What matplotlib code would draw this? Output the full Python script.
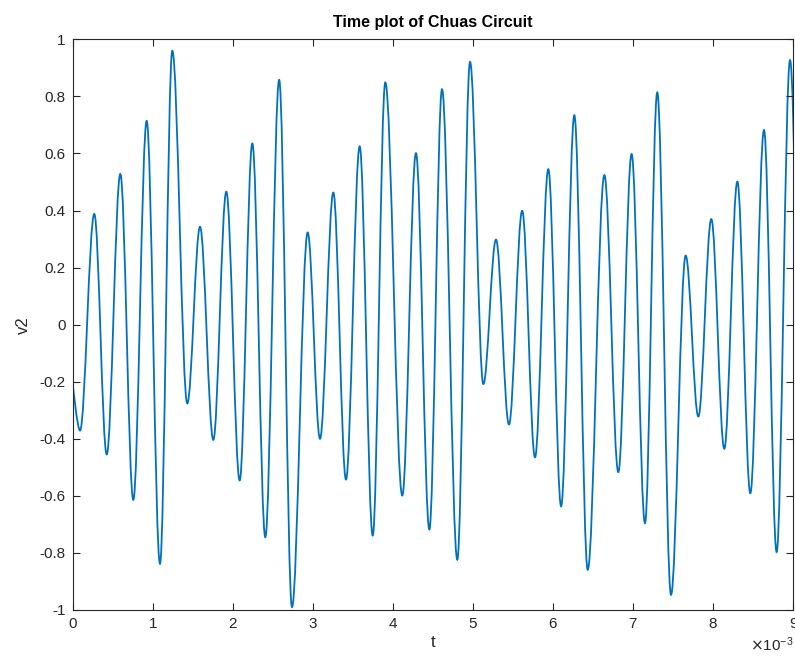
import matplotlib
matplotlib.use("Agg")
import matplotlib.pyplot as plt
from matplotlib.path import Path
from matplotlib.patches import PathPatch

plt.rcParams['font.family'] = ['Liberation Sans', 'DejaVu Sans']

# extremos de v2 (t en ms)
t_ms = [0.000, 0.094, 0.272, 0.427, 0.597, 0.759, 0.926, 1.092, 1.246, 1.433,
        1.592, 1.758, 1.920, 2.087, 2.245, 2.407, 2.580, 2.740, 2.936, 3.090,
        3.256, 3.414, 3.585, 3.748, 3.905, 4.117, 4.288, 4.455, 4.613, 4.804,
        4.963, 5.129, 5.287, 5.449, 5.614, 5.774, 5.940, 6.100, 6.265, 6.432,
        6.640, 6.814, 6.980, 7.147, 7.300, 7.472, 7.655, 7.813, 7.975, 8.137,
        8.300, 8.462, 8.633, 8.790, 8.958, 9.120]
v2 = [-0.200, -0.371, 0.388, -0.455, 0.528, -0.614, 0.714, -0.838, 0.960, -0.276,
      0.343, -0.404, 0.466, -0.546, 0.635, -0.745, 0.858, -0.990, 0.323, -0.400,
      0.463, -0.543, 0.625, -0.739, 0.849, -0.599, 0.601, -0.718, 0.825, -0.824,
      0.921, -0.208, 0.298, -0.350, 0.399, -0.465, 0.545, -0.637, 0.734, -0.859,
      0.524, -0.517, 0.598, -0.696, 0.814, -0.947, 0.242, -0.322, 0.370, -0.435,
      0.501, -0.591, 0.682, -0.797, 0.927, -0.500]

yticks = [-1, -0.8, -0.6, -0.4, -0.2, 0, 0.2, 0.4, 0.6, 0.8, 1]
ytick_labels = ['-1', '-0.8', '-0.6', '-0.4', '-0.2', '0', '0.2', '0.4', '0.6', '0.8', '1']
xticks_ms = [0, 1, 2, 3, 4, 5, 6, 7, 8, 9]

t = [x * 1e-3 for x in t_ms]

fig = plt.figure(figsize=(7.95, 6.61), dpi=100)
ax = fig.add_axes([0.0912, 0.0772, 0.9068, 0.8633])

# curva suave entre extremos (tangente horizontal en cada pico/valle)
h = 0.36
verts = [(t[0], v2[0])]
codes = [Path.MOVETO]
for i in range(len(t) - 1):
    dt = t[i + 1] - t[i]
    c1 = (t[i] + h * dt, v2[i]) if i > 0 else (t[i], v2[i])
    verts += [c1, (t[i + 1] - h * dt, v2[i + 1]), (t[i + 1], v2[i + 1])]
    codes += [Path.CURVE4] * 3
ax.add_patch(PathPatch(Path(verts, codes), fill=False, edgecolor='#0072BD', lw=1.3))

ax.set_xlim(0, 9e-3)
ax.set_ylim(-1, 1)
ax.set_xticks([x * 1e-3 for x in xticks_ms])
ax.set_yticks(yticks)
ax.set_yticklabels(ytick_labels)
ax.ticklabel_format(axis='x', style='sci', scilimits=(-3, -3), useMathText=True)

axcol = '#262626'
ax.tick_params(direction='in', length=5, width=0.8, top=True, right=True,
               colors=axcol, labelsize=11, pad=5)
ax.xaxis.get_offset_text().set_fontsize(11)
ax.xaxis.get_offset_text().set_color(axcol)
for s in ax.spines.values():
    s.set_color(axcol)
    s.set_linewidth(0.8)

ax.set_title('Time plot of Chuas Circuit', fontsize=11.5, fontweight='bold', color='black', pad=9)
ax.set_xlabel('t', fontsize=12, color=axcol, labelpad=3)
ax.set_ylabel('v2', fontsize=12, color=axcol, labelpad=6)

fig.savefig('out.png', dpi=100)
